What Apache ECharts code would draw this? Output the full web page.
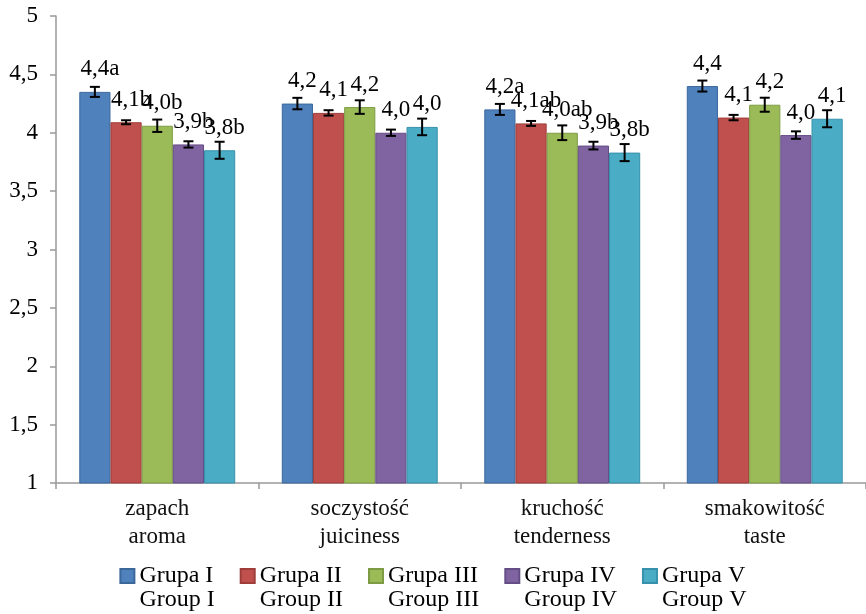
<!DOCTYPE html>
<html>
<head>
<meta charset="utf-8">
<script src="https://cdn.jsdelivr.net/npm/echarts@6/dist/echarts.min.js"></script>
<style>html,body{margin:0;padding:0;background:#fff}#c{width:866px;height:614px}</style>
</head>
<body>
<div id="c"></div>
<script>
const categories = ['zapach\naroma', 'soczystość\njuiciness', 'kruchość\ntenderness', 'smakowitość\ntaste'];
const groupsPl = ['Grupa I', 'Grupa II', 'Grupa III', 'Grupa IV', 'Grupa V'];
const groupsEn = ['Group I', 'Group II', 'Group III', 'Group IV', 'Group V'];

const grupa1 = [4.35, 4.25, 4.20, 4.40];
const grupa2 = [4.09, 4.17, 4.08, 4.13];
const grupa3 = [4.06, 4.22, 4.00, 4.24];
const grupa4 = [3.90, 4.00, 3.89, 3.98];
const grupa5 = [3.85, 4.05, 3.83, 4.12];

const err1 = [0.043, 0.049, 0.047, 0.047];
const err2 = [0.017, 0.023, 0.021, 0.023];
const err3 = [0.053, 0.058, 0.063, 0.060];
const err4 = [0.027, 0.027, 0.033, 0.032];
const err5 = [0.073, 0.071, 0.073, 0.073];

const lab1 = ['4,4a', '4,2', '4,2a', '4,4'];
const lab2 = ['4,1b', '4,1', '4,1ab', '4,1'];
const lab3 = ['4,0b', '4,2', '4,0ab', '4,2'];
const lab4 = ['3,9b', '4,0', '3,9b', '4,0'];
const lab5 = ['3,8b', '4,0', '3,8b', '4,1'];

const yMin = 1, yMax = 5, yStep = 0.5;

const values = [grupa1, grupa2, grupa3, grupa4, grupa5];
const errors = [err1, err2, err3, err4, err5];
const labels = [lab1, lab2, lab3, lab4, lab5];

const fills = ['#4F81BD', '#C0504D', '#9BBB59', '#8064A2', '#4BACC6'];
const borders = ['#3B679B', '#9E3D3A', '#7D9B43', '#654D85', '#3791AA'];
const FONT = 'Liberation Serif';
const CAT_GAP = 0.23;
const N = groupsPl.length;

const series = [];
values.forEach((vals, k) => {
  series.push({
    name: groupsPl[k],
    type: 'bar',
    data: vals,
    barGap: '0%',
    barCategoryGap: (CAT_GAP * 100) + '%',
    itemStyle: { color: fills[k], borderColor: borders[k], borderWidth: 1 },
    label: {
      show: true, position: 'top', distance: 11, offset: [5, 0],
      fontFamily: FONT, fontSize: 23, color: '#000',
      formatter: p => labels[k][p.dataIndex]
    },
    z: 2
  });
});
values.forEach((vals, k) => {
  series.push({
    type: 'custom',
    name: groupsPl[k] + ' err',
    data: vals.map((v, i) => [i, v, errors[k][i]]),
    encode: { x: 0, y: 1 },
    z: 5,
    silent: true,
    renderItem: (params, api) => {
      const ci = api.value(0), v = api.value(1), e = api.value(2);
      const band = api.size([1, 0])[0];
      const bw = band * (1 - CAT_GAP) / N;
      const cx = api.coord([ci, v])[0] + (k - (N - 1) / 2) * bw;
      const yHi = api.coord([ci, v + e])[1];
      const yLo = api.coord([ci, v - e])[1];
      const hw = 5;
      const st = { stroke: '#000', lineWidth: 2 };
      return {
        type: 'group',
        children: [
          { type: 'line', shape: { x1: cx, y1: yHi, x2: cx, y2: yLo }, style: st },
          { type: 'line', shape: { x1: cx - hw, y1: yHi, x2: cx + hw, y2: yHi }, style: st },
          { type: 'line', shape: { x1: cx - hw, y1: yLo, x2: cx + hw, y2: yLo }, style: st }
        ]
      };
    }
  });
});

const enByPl = {};
groupsPl.forEach((g, i) => { enByPl[g] = groupsEn[i]; });

const chart = echarts.init(document.getElementById('c'), null, { renderer: 'canvas' });
chart.setOption({
  animation: false,
  backgroundColor: '#fff',
  grid: { left: 56, top: 16, right: -8, bottom: 131, containLabel: false },
  xAxis: {
    type: 'category',
    data: categories,
    axisLine: { lineStyle: { color: '#999', width: 1.5 } },
    axisTick: { show: true, length: 6, lineStyle: { color: '#999', width: 1.5 } },
    axisLabel: { fontFamily: FONT, fontSize: 23, color: '#111', lineHeight: 28, margin: 12 },
    splitLine: { show: false }
  },
  yAxis: {
    type: 'value',
    min: yMin, max: yMax, interval: yStep,
    axisLine: { show: true, lineStyle: { color: '#999', width: 1.5 } },
    axisTick: { show: true, length: 6, lineStyle: { color: '#999', width: 1.5 } },
    axisLabel: { fontFamily: FONT, fontSize: 23, color: '#000', margin: 18,
      formatter: v => String(v).replace('.', ',') },
    splitLine: { show: false }
  },
  legend: {
    data: groupsPl,
    left: 'center',
    top: 535,
    icon: 'rect',
    itemWidth: 14, itemHeight: 14, itemGap: 25,
    formatter: name => ' \n' + name + '\n' + enByPl[name],
    textStyle: { fontFamily: FONT, fontSize: 24, color: '#000', lineHeight: 24 }
  },
  series: series
});
</script>
</body>
</html>
